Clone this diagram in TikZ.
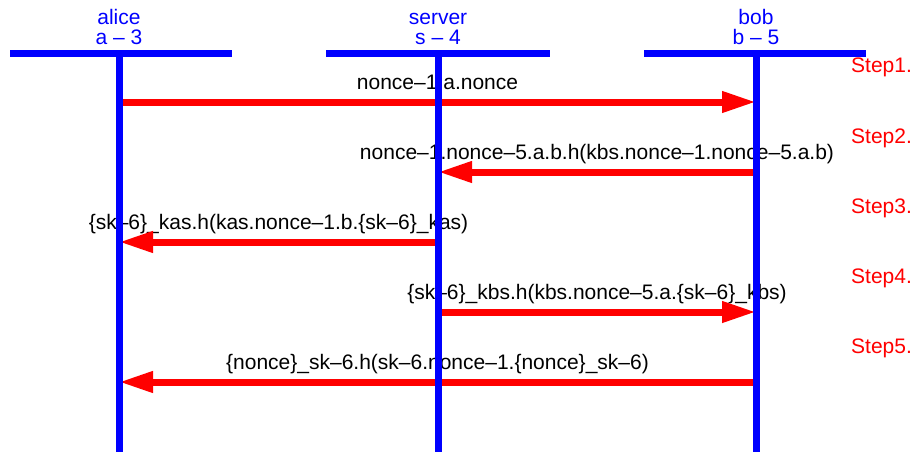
\documentclass[tikz,border=0pt]{standalone}
\usepackage{fontspec}
\setmainfont{Liberation Sans}
\usetikzlibrary{arrows.meta}
\begin{document}
\begin{tikzpicture}[x=1pt,y=-1pt,
  lbl/.style={font=\fontsize{21}{24}\selectfont, inner sep=0pt, anchor=base},
  head/.style={lbl, text=blue},
  steplbl/.style={lbl, text=red, anchor=base west},
  msg/.style={draw=red, line width=7pt, -{Triangle[length=34pt,width=20pt]}},
  life/.style={draw=blue, line width=7pt},
]
\useasboundingbox (0,0) rectangle (913,452);
% headers
\node[head] (alice) at (119,25) {alice};
\node[head] (aliceid) at (119,45) {a – 3};
\node[head] (server) at (438,25) {server};
\node[head] (serverid) at (438,45) {s – 4};
\node[head] (bob) at (756,25) {bob};
\node[head] (bobid) at (756,45) {b – 5};
% step labels
\node[steplbl] (s1) at (851,73) {Step1.};
\node[steplbl] (s2) at (851,143) {Step2.};
\node[steplbl] (s3) at (851,213) {Step3.};
\node[steplbl] (s4) at (851,283) {Step4.};
\node[steplbl] (s5) at (851,353) {Step5.};
% lifeline anchor coordinates
\coordinate (aT) at (119,53.5); \coordinate (aB) at (119,452);
\coordinate (sT) at (438,53.5); \coordinate (sB) at (438,452);
\coordinate (bT) at (756,53.5); \coordinate (bB) at (756,452);
\coordinate (a1) at (119,102); \coordinate (b1) at (756,102);
\coordinate (s2) at (438,172); \coordinate (b2) at (756,172);
\coordinate (a3) at (119,242); \coordinate (s3) at (438,242);
\coordinate (s4) at (438,312); \coordinate (b4) at (756,312);
\coordinate (a5) at (119,382); \coordinate (b5) at (756,382);
% message labels
\node[lbl] (m1) at (437.5,89) {nonce–1.a.nonce};
\node[lbl] (m2) at (597,159) {nonce–1.nonce–5.a.b.h(kbs.nonce–1.nonce–5.a.b)};
\node[lbl] (m3) at (278.5,229) {\{sk–6\}\_kas.h(kas.nonce–1.b.\{sk–6\}\_kas)};
\node[lbl] (m4) at (597,299) {\{sk–6\}\_kbs.h(kbs.nonce–5.a.\{sk–6\}\_kbs)};
\node[lbl] (m5) at (437.5,369) {\{nonce\}\_sk–6.h(sk–6.nonce–1.\{nonce\}\_sk–6)};
% messages
\draw[msg] (a1) -- (b1);
\draw[msg] (b2) -- (s2);
\draw[msg] (s3) -- (a3);
\draw[msg] (s4) -- (b4);
\draw[msg] (b5) -- (a5);
% header bars and lifelines
\draw[life] (10,53.5) coordinate (abarL) -- (232,53.5) coordinate (abarR);
\draw[life] (326,53.5) coordinate (sbarL) -- (550,53.5) coordinate (sbarR);
\draw[life] (644,53.5) coordinate (bbarL) -- (866,53.5) coordinate (bbarR);
\draw[life] (aT) -- (aB);
\draw[life] (sT) -- (sB);
\draw[life] (bT) -- (bB);
\end{tikzpicture}
\end{document}
